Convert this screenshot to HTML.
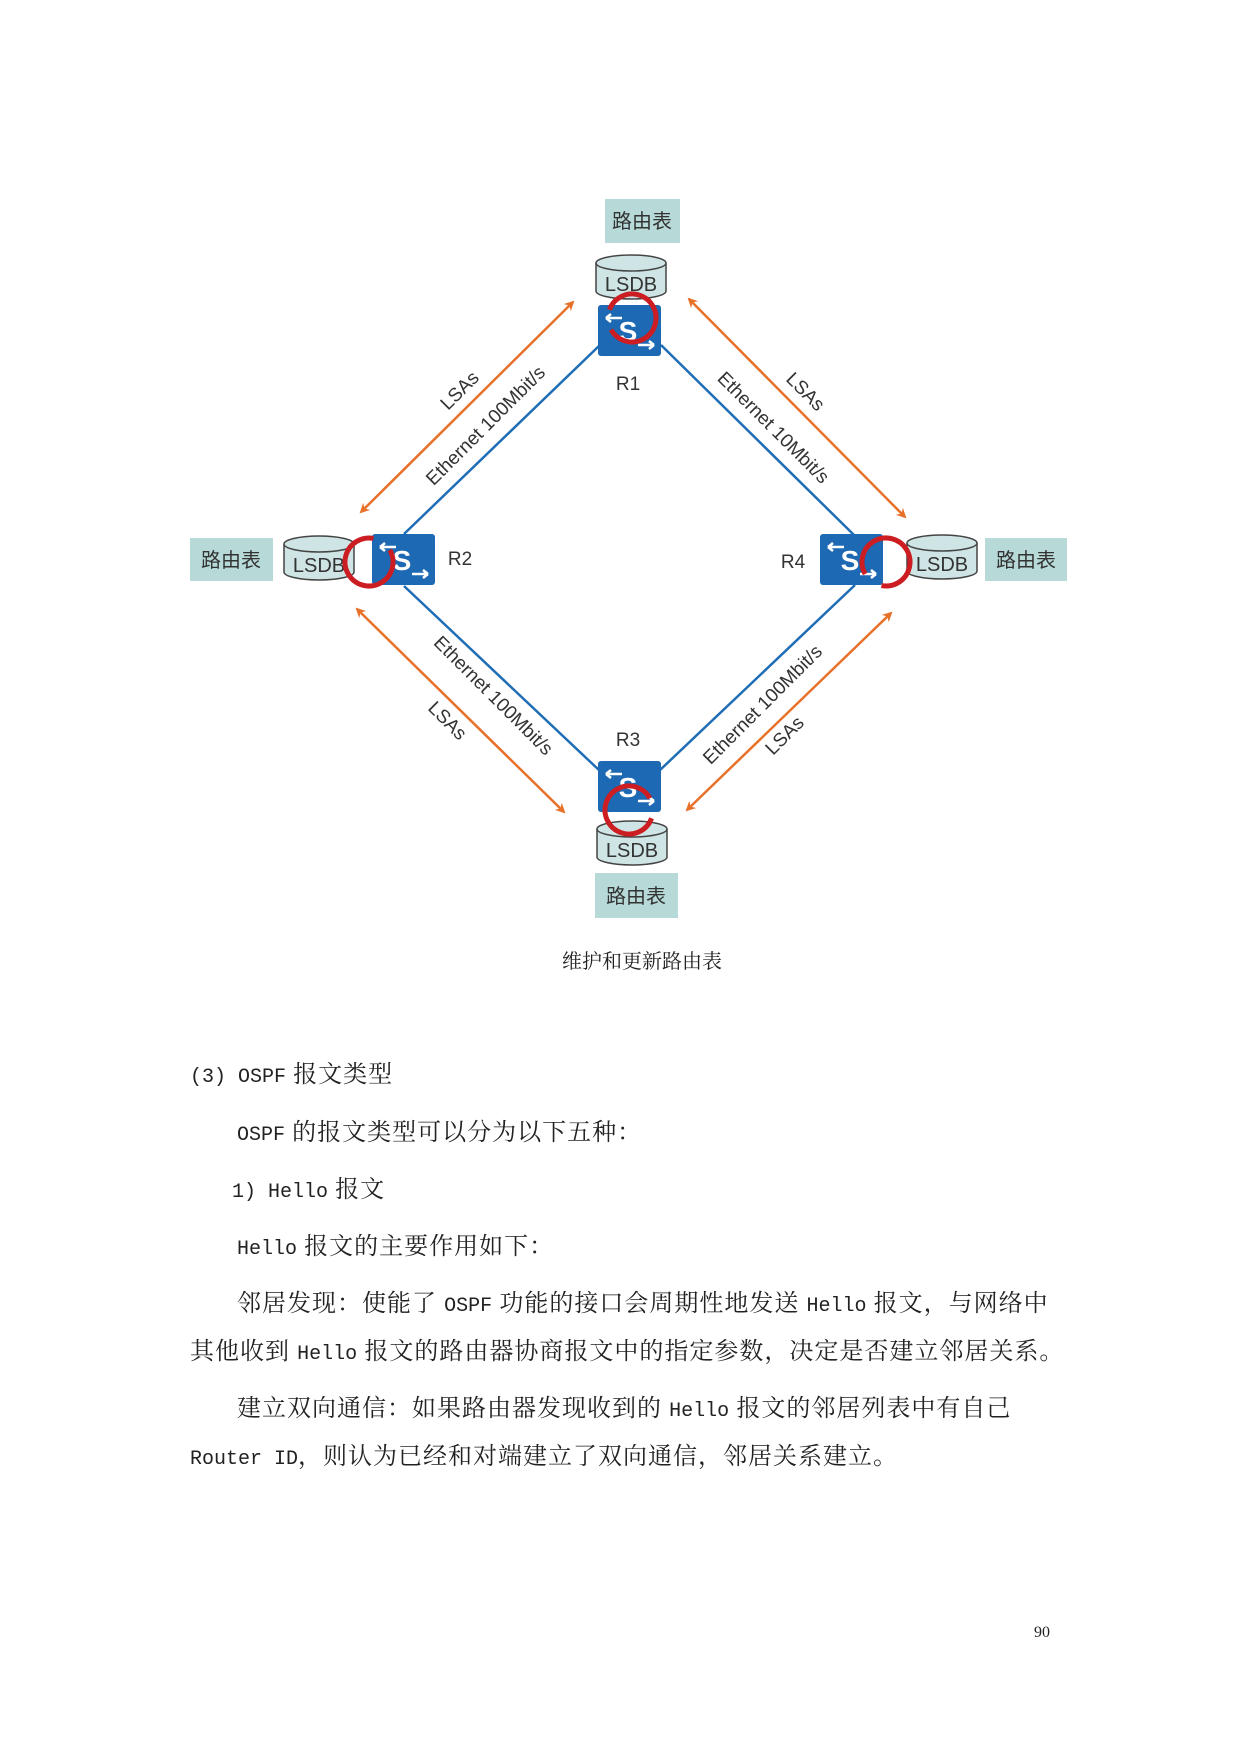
<!DOCTYPE html>
<html><head><meta charset="utf-8"><style>
body{margin:0;background:#fff;}
#p{position:relative;width:1240px;height:1753px;overflow:hidden;background:#fff;}
.t{position:absolute;font-family:"Noto Serif CJK SC","Noto Sans CJK SC",serif;font-size:24px;color:#222;white-space:nowrap;line-height:30px;letter-spacing:1px;}
.l{font-family:"Liberation Mono",monospace;font-size:20px;letter-spacing:0;}
</style></head><body><div id="p">
<svg width="1240" height="1753" style="position:absolute;left:0;top:0">
<defs>
<marker id="ah" markerWidth="10" markerHeight="10" refX="8" refY="5" orient="auto-start-reverse" markerUnits="userSpaceOnUse"><path d="M0,0 L10,5 L0,10 L3,5z" fill="#e8712a"/></marker>
<g id="sw"><rect x="0" y="0" width="63" height="51" rx="3" fill="#1d69b3"/><path d="M8,13 h16 M8,13 l5,-4 M8,13 l5,4" stroke="#fff" stroke-width="2.5" fill="none"/><path d="M40,40 h16 M56,40 l-5,-4 M56,40 l-5,4" stroke="#fff" stroke-width="2.5" fill="none"/><text x="30" y="36" font-family="Liberation Sans" font-weight="bold" font-size="28" fill="#fff" text-anchor="middle">S</text></g>
<g id="db"><path d="M0,8 v28 a35,8 0 0 0 70,0 v-28" fill="#cfe4e4" stroke="#444" stroke-width="1.5"/><ellipse cx="35" cy="8" rx="35" ry="8" fill="#cfe4e4" stroke="#444" stroke-width="1.5"/><text x="35" y="36" font-family="Liberation Sans" font-size="20" fill="#333" text-anchor="middle">LSDB</text></g>
</defs>
<g stroke="#1f6db5" stroke-width="2.5">
<line x1="600" y1="345" x2="404" y2="534"/><line x1="661" y1="345" x2="855" y2="536"/>
<line x1="404" y1="586" x2="600" y2="771"/><line x1="659" y1="771" x2="855" y2="585"/>
</g>
<g stroke="#e8712a" stroke-width="2.5" marker-start="url(#ah)" marker-end="url(#ah)">
<line x1="573" y1="302" x2="361" y2="512"/><line x1="689" y1="299" x2="905" y2="517"/>
<line x1="357" y1="609" x2="564" y2="812"/><line x1="891" y1="613" x2="687" y2="810"/>
</g>
<g font-family="Liberation Sans" font-size="19" fill="#333" text-anchor="middle">
<text transform="translate(464,395) rotate(-45)">LSAs</text>
<text transform="translate(490,430) rotate(-45)">Ethernet 100Mbit/s</text>
<text transform="translate(769,432) rotate(45)">Ethernet 10Mbit/s</text>
<text transform="translate(801,396) rotate(45)">LSAs</text>
<text transform="translate(489,700) rotate(45)">Ethernet 100Mbit/s</text>
<text transform="translate(443,725) rotate(45)">LSAs</text>
<text transform="translate(767,709) rotate(-45)">Ethernet 100Mbit/s</text>
<text transform="translate(789,740) rotate(-45)">LSAs</text>
<text x="628" y="390">R1</text><text x="460" y="565">R2</text><text x="793" y="568">R4</text><text x="628" y="746">R3</text>
</g>
<g fill="#b7dad9">
<rect x="605" y="199" width="75" height="44"/><rect x="190" y="538" width="83" height="43"/>
<rect x="985" y="538" width="82" height="43"/><rect x="595" y="873" width="83" height="45"/>
</g>
<g font-family="Noto Sans CJK SC,sans-serif" font-size="20" fill="#333" text-anchor="middle">
<text x="642" y="228">路由表</text><text x="231" y="567">路由表</text><text x="1026" y="567">路由表</text><text x="636" y="903">路由表</text>
</g>
<use href="#db" x="596" y="255"/><use href="#db" x="284" y="536"/><use href="#db" x="907" y="535"/><use href="#db" x="597" y="821"/>
<use href="#sw" x="598" y="305"/><use href="#sw" x="372" y="534"/><use href="#sw" x="820" y="534"/><use href="#sw" x="598" y="761"/>
<g fill="none" stroke="#cc1d22" stroke-width="5" stroke-dasharray="130 21">
<circle cx="632" cy="318" r="24" transform="rotate(200 632 318)"/>
<circle cx="369" cy="562" r="24" transform="rotate(-30 369 562)"/>
<circle cx="886" cy="562" r="24" transform="rotate(150 886 562)"/>
<circle cx="629" cy="810" r="24" transform="rotate(20 629 810)"/>
</g>
<text x="642" y="968" font-family="Noto Serif CJK SC,serif" font-size="20" fill="#222" text-anchor="middle">维护和更新路由表</text>
<text x="1042" y="1637" font-family="Liberation Serif,serif" font-size="16" fill="#222" text-anchor="middle">90</text>
</svg>
<div class="t" style="left:190px;top:1057px"><span class="l">(3) OSPF</span> 报文类型</div>
<div class="t" style="left:237px;top:1115px"><span class="l">OSPF</span> 的报文类型可以分为以下五种：</div>
<div class="t" style="left:232px;top:1172px"><span class="l">1)  Hello</span> 报文</div>
<div class="t" style="left:237px;top:1229px"><span class="l">Hello</span> 报文的主要作用如下：</div>
<div class="t" style="left:237px;top:1286px">邻居发现：使能了 <span class="l">OSPF</span> 功能的接口会周期性地发送 <span class="l">Hello</span> 报文，与网络中</div>
<div class="t" style="left:190px;top:1334px">其他收到 <span class="l">Hello</span> 报文的路由器协商报文中的指定参数，决定是否建立邻居关系。</div>
<div class="t" style="left:237px;top:1391px">建立双向通信：如果路由器发现收到的 <span class="l">Hello</span> 报文的邻居列表中有自己</div>
<div class="t" style="left:190px;top:1439px"><span class="l">Router  ID</span>，则认为已经和对端建立了双向通信，邻居关系建立。</div>
</div></body></html>
